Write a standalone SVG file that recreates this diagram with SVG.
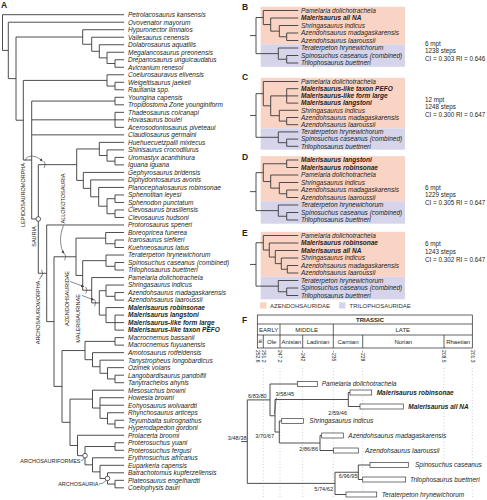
<svg xmlns="http://www.w3.org/2000/svg" width="487" height="500" viewBox="0 0 487 500">
<defs>
<style>
.br{fill:none;stroke:#3a3a3a;stroke-width:0.9}
.tk{fill:none;stroke:#3a3a3a;stroke-width:0.6}
.tx{font-family:"Liberation Sans",Arial,sans-serif;font-size:6.5px;font-style:italic;fill:#231f20}
.b{font-weight:bold}
.cl{font-family:"Liberation Sans",Arial,sans-serif;font-size:5.5px;fill:#231f20}
.pl{font-family:"Liberation Sans",Arial,sans-serif;font-size:8.5px;font-weight:bold;fill:#231f20}
.st{font-family:"Liberation Sans",Arial,sans-serif;font-size:6.3px;fill:#231f20}
.sp{font-family:"Liberation Sans",Arial,sans-serif;font-size:5.6px;fill:#231f20}
.ts{font-family:"Liberation Sans",Arial,sans-serif;font-size:6px;fill:#231f20}
.ag{font-family:"Liberation Sans",Arial,sans-serif;font-size:5px;fill:#231f20}
.lg{font-family:"Liberation Sans",Arial,sans-serif;font-size:6px;fill:#333}
.pk{fill:#f9d3c4}
.bl{fill:#d5d4ea}
.bx{fill:#fff;stroke:#3a3a3a;stroke-width:0.7}
.dt{stroke:#9a9a9a;stroke-width:0.6;stroke-dasharray:0.8 2.4}
.tb{fill:none;stroke:#231f20;stroke-width:0.7}
.nd{fill:#fff;stroke:#3a3a3a;stroke-width:0.8}
</style>
<marker id="ah" viewBox="0 0 4 4" refX="4" refY="2" markerWidth="3" markerHeight="3" markerUnits="userSpaceOnUse" orient="auto"><path d="M0,0L4,2L0,4z" fill="#3a3a3a"/></marker>
</defs>
<rect width="487" height="500" fill="#fff"/>

<!-- ===== PANEL A ===== -->
<text class="pl" x="1" y="8">A</text>
<g id="A-connectors" class="br">
<path d="M124,14.7H2.5V50.41H8.3"/>
<path d="M124,22.21H8.3V78.61H16"/>
<path d="M82.7,37H16V120.22H23.3"/>
<path d="M124,29.72H82.7V44.27H91.7"/>
<path d="M124,37.23H91.7V51.31H99.3"/>
<path d="M124,44.74H99.3V57.88H107"/>
<path d="M124,52.25H107V63.52H115"/>
<path d="M124,59.76H115V67.27H124"/>
<path d="M107,80.41H23.3V160.02H31.7"/>
<path d="M124,74.78H107V86.05H115"/>
<path d="M124,82.29H115V89.8H124"/>
<path d="M115,101.07H31.7V218.98H38.3M31.7,119.84H115M31.7,134.86H124"/>
<path d="M124,97.31H115V104.82H124"/>
<path d="M124,112.33H115V127.35H124M115,119.84H124"/>
<path d="M76.7,164.67H38.3V273.29H46.7"/>
<path d="M99.3,148.94H76.7V180.39H83.3"/>
<path d="M124,142.37H99.3V155.51H107"/>
<path d="M124,149.88H107V161.15H115"/>
<path d="M124,157.39H115V164.9H124"/>
<path d="M124,172.41H83.3V188.37H90.7"/>
<path d="M124,179.92H90.7V196.82H98.7"/>
<path d="M124,187.43H98.7V206.21H107"/>
<path d="M115,198.7H107V213.72H115"/>
<path d="M124,194.94H115V202.45H124"/>
<path d="M124,209.96H115V217.47H124"/>
<path d="M124,224.98H46.7V321.6H54"/>
<path d="M76,256.78H54V386.42H62"/>
<path d="M105.7,238.12H76V275.44H82.7"/>
<path d="M124,232.49H105.7V243.76H115"/>
<path d="M124,240H115V247.51H124"/>
<path d="M106,260.65H82.7V290.23H91.7"/>
<path d="M124,255.02H106V266.29H115"/>
<path d="M124,262.53H115V270.04H124"/>
<path d="M124,277.55H91.7V302.9H99.3"/>
<path d="M106,290.69H99.3V315.1H106"/>
<path d="M124,285.06H106V296.33H115"/>
<path d="M124,292.57H115V300.08H124"/>
<path d="M124,307.59H106V322.61H115"/>
<path d="M124,315.1H115V330.12H124M115,322.61H124"/>
<path d="M85,350.54H62V422.3H70"/>
<path d="M115,341.39H85V359.69H92.5"/>
<path d="M124,337.63H115V345.14H124"/>
<path d="M124,352.65H92.5V366.73H100"/>
<path d="M124,360.16H100V373.3H107.5"/>
<path d="M124,367.67H107.5V378.94H115"/>
<path d="M124,375.18H115V382.69H124"/>
<path d="M92.5,399.12H70V445.47H77.5"/>
<path d="M124,390.2H92.5V408.04H100"/>
<path d="M124,397.71H100V418.36H107.5M100,405.22H124"/>
<path d="M124,412.73H107.5V424H115"/>
<path d="M124,420.24H115V427.75H124"/>
<path d="M124,435.26H77.5V455.68H85"/>
<path d="M115,446.53H85V464.83H92.5"/>
<path d="M124,442.77H115V450.28H124"/>
<path d="M124,457.79H92.5V471.87H100"/>
<path d="M124,465.3H100V478.44H107.5"/>
<path d="M124,472.81H107.5V484.08H115"/>
<path d="M124,480.32H115V487.83H124"/>
<!-- clade annotation leaders and ticks -->
<path class="tk" d="M25,160.5C27,154 37,155 42.5,161.5" marker-end="url(#ah)"/>
<path class="tk" d="M44,161.2Q46.5,164.67 44,168.1"/>
<path class="tk" d="M39.5,279.5Q40.5,276.5 42,275.3"/>
<path class="tk" d="M41.5,269.8Q44,273.29 41.5,276.8"/>
<path class="tk" d="M63.5,225.5C59,236 60,248 64,253.5" marker-end="url(#ah)"/>
<path class="tk" d="M64.5,253.3Q67,256.78 64.5,260.3"/>
<path class="tk" d="M70,281.5L84,286.6" marker-end="url(#ah)"/>
<path class="tk" d="M85.7,286.8Q88.2,290.23 85.7,293.7"/>
<path class="tk" d="M82,295.5L94,300" marker-end="url(#ah)"/>
<path class="tk" d="M94.5,299.4Q97,302.9 94.5,306.4"/>
<path class="tk" d="M81,460.8Q83.2,460.5 84.2,457.9"/>
<path class="tk" d="M99,484Q103.5,484 106.2,480.3"/>
</g>
<g id="A-nodes">
<circle id="node-sauria" class="nd" cx="38.3" cy="218.98" r="2.3"/>
<circle id="node-archosauriformes" class="nd" cx="85" cy="455.68" r="2.3"/>
<circle id="node-archosauria" class="nd" cx="107.5" cy="478.44" r="2.3"/>
</g>
<g id="A-clade-labels" class="cl">
<text transform="translate(23.3,195) rotate(-90)" y="2" text-anchor="middle">LEPIDOSAUROMORPHA</text>
<text transform="translate(33.5,236.5) rotate(-90)" y="2" text-anchor="middle">SAURIA</text>
<text transform="translate(38.3,312.5) rotate(-90)" y="2" text-anchor="middle">ARCHOSAUROMORPHA</text>
<text transform="translate(63,198.5) rotate(-90)" y="2" text-anchor="middle">ALLOKOTOSAURIA</text>
<text transform="translate(66.7,298.5) rotate(-90)" y="2" text-anchor="middle">AZENDOHSAURIDAE</text>
<text transform="translate(78.3,318.5) rotate(-90)" y="2" text-anchor="middle">MALERISAURINAE</text>
<text x="80.5" y="463" text-anchor="end">ARCHOSAURIFORMES</text>
<text x="98.5" y="486.3" text-anchor="end">ARCHOSAURIA</text>
</g>
<g id="A-taxa" class="tx">
<g id="a00"><text x="128" y="16.9">Petrolacosaurus kansensis</text></g>
<g id="a01"><text x="128" y="24.5">Ovovenator mayorum</text></g>
<g id="a02"><text x="128" y="32">Hypuronector limnaios</text></g>
<g id="a03"><text x="128" y="39.5">Vallesaurus cenensis</text></g>
<g id="a04"><text x="128" y="47">Dolabrosaurus aquatilis</text></g>
<g id="a05"><text x="128" y="54.5">Megalancosaurus preonensis</text></g>
<g id="a06"><text x="128" y="62.1">Drepanosaurus unguicaudatus</text></g>
<g id="a07"><text x="128" y="69.6">Avicranium renesoi</text></g>
<g id="a08"><text x="128" y="77.1">Coelurosauravus elivensis</text></g>
<g id="a09"><text x="128" y="84.6">Weigeltisaurus jaekeli</text></g>
<g id="a10"><text x="128" y="92.1">Rautiania spp.</text></g>
<g id="a11"><text x="128" y="99.6">Youngina capensis</text></g>
<g id="a12"><text x="128" y="107.1">Tropidostoma Zone younginiform</text></g>
<g id="a13"><text x="128" y="114.6">Thadeosaurus colcanapi</text></g>
<g id="a14"><text x="128" y="122.1">Hovasaurus boulei</text></g>
<g id="a15"><text x="128" y="129.7">Acerosodontosaurus piveteaui</text></g>
<g id="a16"><text x="128" y="137.2">Claudiosaurus germaini</text></g>
<g id="a17"><text x="128" y="144.7">Huehuecuetzpalli mixtecus</text></g>
<g id="a18"><text x="128" y="152.2">Shinisaurus crocodilurus</text></g>
<g id="a19"><text x="128" y="159.7">Uromastyx acanthinura</text></g>
<g id="a20"><text x="128" y="167.2">Iguana iguana</text></g>
<g id="a21"><text x="128" y="174.7">Gephyrosaurus bridensis</text></g>
<g id="a22"><text x="128" y="182.2">Diphydontosaurus avonis</text></g>
<g id="a23"><text x="128" y="189.7">Planocephalosaurus robinsonae</text></g>
<g id="a24"><text x="128" y="197.2">Sphenotitan leyesi</text></g>
<g id="a25"><text x="128" y="204.8">Sphenodon punctatum</text></g>
<g id="a26"><text x="128" y="212.3">Clevosaurus brasiliensis</text></g>
<g id="a27"><text x="128" y="219.8">Clevosaurus hudsoni</text></g>
<g id="a28"><text x="128" y="227.3">Protorosaurus speneri</text></g>
<g id="a29"><text x="128" y="234.8">Boreopricea funerea</text></g>
<g id="a30"><text x="128" y="242.3">Icarosaurus siefkeri</text></g>
<g id="a31"><text x="128" y="249.8">Kuehneosaurus latus</text></g>
<g id="a32"><text x="128" y="257.3">Teraterpeton hrynewichorum</text></g>
<g id="a33"><text x="128" y="264.8">Spinosuchus caseanus (combined)</text></g>
<g id="a34"><text x="128" y="272.3">Trilophosaurus buettneri</text></g>
<g id="a35"><text x="128" y="279.9">Pamelaria dolichotrachela</text></g>
<g id="a36"><text x="128" y="287.4">Shringasaurus indicus</text></g>
<g id="a37"><text x="128" y="294.9">Azendohsaurus madagaskarensis</text></g>
<g id="a38"><text x="128" y="302.4">Azendohsaurus laaroussii</text></g>
<g id="a39"><text class="b" x="128" y="309.9">Malerisaurus robinsonae</text></g>
<g id="a40"><text class="b" x="128" y="317.4">Malerisaurus langstoni</text></g>
<g id="a41"><text class="b" x="128" y="324.9">Malerisaurus-like form large</text></g>
<g id="a42"><text class="b" x="128" y="332.4">Malerisaurus-like taxon PEFO</text></g>
<g id="a43"><text x="128" y="339.9">Macrocnemus bassanii</text></g>
<g id="a44"><text x="128" y="347.4">Macrocnemus fuyuanensis</text></g>
<g id="a45"><text x="128" y="355">Amotosaurus rotfeldensis</text></g>
<g id="a46"><text x="128" y="362.5">Tanystropheus longobardicus</text></g>
<g id="a47"><text x="128" y="370">Ozimek volans</text></g>
<g id="a48"><text x="128" y="377.5">Langobardisaurus pandolfii</text></g>
<g id="a49"><text x="128" y="385">Tanytrachelos ahynis</text></g>
<g id="a50"><text x="128" y="392.5">Mesosuchus browni</text></g>
<g id="a51"><text x="128" y="400">Howesia browni</text></g>
<g id="a52"><text x="128" y="407.5">Eohyosaurus wolvaardti</text></g>
<g id="a53"><text x="128" y="415">Rhynchosaurus articeps</text></g>
<g id="a54"><text x="128" y="422.5">Teyumbaita sulcognathus</text></g>
<g id="a55"><text x="128" y="430.1">Hyperodapedon gordoni</text></g>
<g id="a56"><text x="128" y="437.6">Prolacerta broomi</text></g>
<g id="a57"><text x="128" y="445.1">Proterosuchus yuani</text></g>
<g id="a58"><text x="128" y="452.6">Proterosuchus fergusi</text></g>
<g id="a59"><text x="128" y="460.1">Erythrosuchus africanus</text></g>
<g id="a60"><text x="128" y="467.6">Euparkeria capensis</text></g>
<g id="a61"><text x="128" y="475.1">Batrachotomus kupferzellensis</text></g>
<g id="a62"><text x="128" y="482.6">Plateosaurus engelhardti</text></g>
<g id="a63"><text x="128" y="490.1">Coelophysis bauri</text></g>
</g>

<!-- ===== PANELS B-E backgrounds ===== -->
<g id="BE-backgrounds">
<rect class="pk" x="260.7" y="6.8" width="144.3" height="37.5"/>
<rect class="bl" x="260.7" y="44.3" width="144.3" height="22.5"/>
<rect class="pk" x="260.7" y="77.8" width="144.3" height="50.5"/>
<rect class="bl" x="260.7" y="128.3" width="144.3" height="21.4"/>
<rect class="pk" x="260.7" y="156.2" width="144.3" height="45"/>
<rect class="bl" x="260.7" y="201.2" width="144.3" height="22.5"/>
<rect class="pk" x="260.7" y="231.8" width="144.3" height="45"/>
<rect class="bl" x="260.7" y="276.8" width="144.3" height="22.5"/>
</g>
<g id="BE-labels" class="pl">
<text x="242" y="10">B</text>
<text x="242" y="80">C</text>
<text x="242" y="160">D</text>
<text x="242" y="235.5">E</text>
<text x="242" y="322.5">F</text>
</g>
<g id="BE-connectors" class="br">
<path d="M298.3,33H286.7V40.5H298.3"/>
<path d="M298.3,25.5H279.3V36.75H286.7"/>
<path d="M298.3,18H270.7V31.13H279.3"/>
<path d="M298.3,10.5H263.3V24.56H270.7"/>
<path d="M298.3,55.5H286.7V63H298.3"/>
<path d="M298.3,48H278.3V59.25H286.7"/>
<path d="M263.3,17.53H256V53.63H278.3M250,35.58H256"/>

<path d="M298.3,88.7H286.7V103.1H298.3M286.7,95.9H298.3"/>
<path d="M298.3,117.5H286.7V124.7H298.3"/>
<path d="M298.3,110.3H279.3V121.1H286.7"/>
<path d="M286.7,95.9H270.7V115.7H279.3"/>
<path d="M298.3,81.5H263.3V105.8H270.7"/>
<path d="M298.3,139.1H286.7V146.3H298.3"/>
<path d="M298.3,131.9H278.3V142.7H286.7"/>
<path d="M263.3,93.65H256V137.3H278.3M250,115.48H256"/>

<path d="M298.3,160H286.7V167.5H298.3"/>
<path d="M298.3,190H286.7V197.5H298.3"/>
<path d="M298.3,182.5H279.3V193.75H286.7"/>
<path d="M298.3,175H270.7V188.13H279.3"/>
<path d="M286.7,163.75H263.3V181.56H270.7"/>
<path d="M298.3,212.5H286.7V220H298.3"/>
<path d="M298.3,205H278.3V216.25H286.7"/>
<path d="M263.3,172.66H256V210.63H278.3M250,191.64H256"/>

<path d="M298.3,265.5H287.3V273H298.3"/>
<path d="M298.3,258H281.3V269.25H287.3"/>
<path d="M298.3,250.5H275.3V263.63H281.3"/>
<path d="M298.3,243H269.3V257.06H275.3"/>
<path d="M298.3,235.5H263.3V250.03H269.3"/>
<path d="M298.3,288H286.7V295.5H298.3"/>
<path d="M298.3,280.5H278.3V291.75H286.7"/>
<path d="M263.3,242.77H256V286.13H278.3M250,264.45H256"/>
</g>
<g id="B-taxa" class="tx">
<g id="b1"><text x="301" y="12.8">Pamelaria dolichotrachela</text></g>
<g id="b2"><text class="b" x="301" y="20.3">Malerisaurus all NA</text></g>
<g id="b3"><text x="301" y="27.8">Shringasaurus indicus</text></g>
<g id="b4"><text x="301" y="35.3">Azendohsaurus madagaskarensis</text></g>
<g id="b5"><text x="301" y="42.8">Azendohsaurus laaroussii</text></g>
<g id="b6"><text x="301" y="50.3">Teraterpeton hrynewichorum</text></g>
<g id="b7"><text x="301" y="57.8">Spinosuchus caseanus (combined)</text></g>
<g id="b8"><text x="301" y="65.3">Trilophosaurus buettneri</text></g>
</g>
<g id="C-taxa" class="tx">
<g id="c1"><text x="301" y="83.8">Pamelaria dolichotrachela</text></g>
<g id="c2"><text class="b" x="301" y="91">Malerisaurus-like taxon PEFO</text></g>
<g id="c3"><text class="b" x="301" y="98.2">Malerisaurus-like form large</text></g>
<g id="c4"><text class="b" x="301" y="105.4">Malerisaurus langstoni</text></g>
<g id="c5"><text x="301" y="112.6">Shringasaurus indicus</text></g>
<g id="c6"><text x="301" y="119.8">Azendohsaurus madagaskarensis</text></g>
<g id="c7"><text x="301" y="127">Azendohsaurus laaroussii</text></g>
<g id="c8"><text x="301" y="134.2">Teraterpeton hrynewichorum</text></g>
<g id="c9"><text x="301" y="141.4">Spinosuchus caseanus (combined)</text></g>
<g id="c10"><text x="301" y="148.6">Trilophosaurus buettneri</text></g>
</g>
<g id="D-taxa" class="tx">
<g id="d1"><text class="b" x="301" y="162.3">Malerisaurus langstoni</text></g>
<g id="d2"><text class="b" x="301" y="169.8">Malerisaurus robinsonae</text></g>
<g id="d3"><text x="301" y="177.3">Pamelaria dolichotrachela</text></g>
<g id="d4"><text x="301" y="184.8">Shringasaurus indicus</text></g>
<g id="d5"><text x="301" y="192.3">Azendohsaurus madagaskarensis</text></g>
<g id="d6"><text x="301" y="199.8">Azendohsaurus laaroussii</text></g>
<g id="d7"><text x="301" y="207.3">Teraterpeton hrynewichorum</text></g>
<g id="d8"><text x="301" y="214.8">Spinosuchus caseanus (combined)</text></g>
<g id="d9"><text x="301" y="222.3">Trilophosaurus buettneri</text></g>
</g>
<g id="E-taxa" class="tx">
<g id="e1"><text x="301" y="237.8">Pamelaria dolichotrachela</text></g>
<g id="e2"><text class="b" x="301" y="245.3">Malerisaurus robinsonae</text></g>
<g id="e3"><text class="b" x="301" y="252.8">Malerisaurus all NA</text></g>
<g id="e4"><text x="301" y="260.3">Shringasaurus indicus</text></g>
<g id="e5"><text x="301" y="267.8">Azendohsaurus madagaskarensis</text></g>
<g id="e6"><text x="301" y="275.3">Azendohsaurus laaroussii</text></g>
<g id="e7"><text x="301" y="282.8">Teraterpeton hrynewichorum</text></g>
<g id="e8"><text x="301" y="290.3">Spinosuchus caseanus (combined)</text></g>
<g id="e9"><text x="301" y="297.8">Trilophosaurus buettneri</text></g>
</g>
<g id="BE-stats" class="st">
<text x="425" y="45.5">6 mpt</text>
<text x="425" y="53.2">1238 steps</text>
<text x="425" y="60.9">CI = 0.303 RI = 0.646</text>
<text x="425" y="101.5">12 mpt</text>
<text x="425" y="109.2">1248 steps</text>
<text x="425" y="117.1">CI = 0.300 RI = 0.647</text>
<text x="425" y="189.5">6 mpt</text>
<text x="425" y="197.2">1229 steps</text>
<text x="425" y="204.7">CI = 0.305 RI = 0.647</text>
<text x="425" y="245.6">6 mpt</text>
<text x="425" y="253.9">1243 steps</text>
<text x="425" y="262.2">CI = 0.302 RI = 0.647</text>
</g>
<g id="legend">
<rect class="pk" x="260" y="302.3" width="6.5" height="6.2"/>
<text class="lg" x="270" y="307.8">AZENDOHSAURIDAE</text>
<rect class="bl" x="339" y="302.3" width="6.5" height="6.2"/>
<text class="lg" x="349.5" y="307.8">TRILOPHOSAURIDAE</text>
</g>

<!-- ===== PANEL F ===== -->
<g id="F-timescale">
<rect class="tb" x="257.3" y="315" width="215" height="33"/>
<path class="tb" d="M257.3,324H472.3M257.3,335H472.3M280,324V348M333.3,324V348M263.3,335V348M302.7,335V348M362.7,335V348M444,335V348"/>
<text class="ts" x="370" y="322" text-anchor="middle" font-weight="bold">TRIASSIC</text>
<text class="ts" x="268.7" y="332" text-anchor="middle">EARLY</text>
<text class="ts" x="306.7" y="332" text-anchor="middle">MIDDLE</text>
<text class="ts" x="402.8" y="332" text-anchor="middle">LATE</text>
<text class="ag" transform="translate(260.3,341.5) rotate(-90)" y="1.8" text-anchor="middle">In</text>
<text class="ts" x="271.7" y="343.5" text-anchor="middle">Ole</text>
<text class="ts" x="291.3" y="343.5" text-anchor="middle">Anisian</text>
<text class="ts" x="318" y="343.5" text-anchor="middle">Ladinian</text>
<text class="ts" x="348" y="343.5" text-anchor="middle">Carnian</text>
<text class="ts" x="403.3" y="343.5" text-anchor="middle">Norian</text>
<text class="ts" x="458.2" y="343.5" text-anchor="middle">Rhaetian</text>
<text class="ag" transform="translate(255.5,350) rotate(90)">252.6</text>
<text class="ag" transform="translate(261.5,350) rotate(90)">251.2</text>
<text class="ag" transform="translate(278.2,350) rotate(90)">247.2</text>
<text class="ag" transform="translate(300.9,350) rotate(90)">~242</text>
<text class="ag" transform="translate(331.5,350) rotate(90)">~235</text>
<text class="ag" transform="translate(360.9,350) rotate(90)">~228</text>
<text class="ag" transform="translate(442.2,350) rotate(90)">208.5</text>
<text class="ag" transform="translate(470.5,350) rotate(90)">201.3</text>
<path class="dt" d="M263.3,368V499M280,368V499M302.7,368V499M333.3,368V499M362.7,368V499M444,368V499M472.3,368V499"/>
</g>
<g id="F-connectors" class="br">
<path d="M241,441.6H247.3"/>
<path d="M270,399.9H247.3V483.4H335"/>
<path d="M297.3,384H270V415.75H275"/>
<path d="M348.3,399.5H275V432H279.3"/>
<path d="M350,392.5H348.3V406.5H360"/>
<path d="M281.7,421H279.3V443H320"/>
<path d="M321.7,435.5H320V450.5H333.3"/>
<path d="M358.3,472.25H335V494.5H346"/>
<path d="M370,465H358.3V479.5H362.7"/>
<path class="tk" d="M276.5,397.5L274.3,414"/>
</g>
<g id="F-ranges">
<rect class="bx" x="297.3" y="381.5" width="20" height="5"/>
<rect class="bx" x="350" y="390" width="21.7" height="5"/>
<rect class="bx" x="360" y="404" width="43.3" height="5"/>
<rect class="bx" x="281.7" y="418.5" width="21.6" height="5"/>
<rect class="bx" x="321.7" y="433" width="21.6" height="5"/>
<rect class="bx" x="333.3" y="448" width="25" height="5"/>
<rect class="bx" x="370" y="462.5" width="38.3" height="5"/>
<rect class="bx" x="362.7" y="477" width="43" height="5"/>
<rect class="bx" x="346" y="492" width="30.7" height="5"/>
</g>
<g id="F-taxa" class="tx">
<g id="f1"><text x="321.7" y="386.3">Pamelaria dolichotrachela</text></g>
<g id="f2"><text class="b" x="376.7" y="394.8">Malerisaurus robinsonae</text></g>
<g id="f3"><text class="b" x="408.3" y="408.8">Malerisaurus all NA</text></g>
<g id="f4"><text x="309.3" y="423.3">Shringasaurus indicus</text></g>
<g id="f5"><text x="348.3" y="437.8">Azendohsaurus madagaskarensis</text></g>
<g id="f6"><text x="365" y="452.8">Azendohsaurus laaroussii</text></g>
<g id="f7"><text x="415" y="467.3">Spinosuchus caseanus</text></g>
<g id="f8"><text x="410" y="481.8">Trilophosaurus buettneri</text></g>
<g id="f9"><text x="381.7" y="496.8">Teraterpeton hrynewichorum</text></g>
</g>
<g id="F-support" class="sp">
<text x="248" y="397.6">6/83/80</text>
<text x="275.5" y="395.5">3/58/45</text>
<text x="347" y="414.5" text-anchor="end">2/59/46</text>
<text x="274" y="438" text-anchor="end">3/70/67</text>
<text x="318" y="451" text-anchor="end">2/86/86</text>
<text x="357.5" y="478" text-anchor="end">6/96/95</text>
<text x="333" y="491" text-anchor="end">5/74/62</text>
<text x="246.5" y="439.5" text-anchor="end">3/48/38</text>
</g>
</svg>
